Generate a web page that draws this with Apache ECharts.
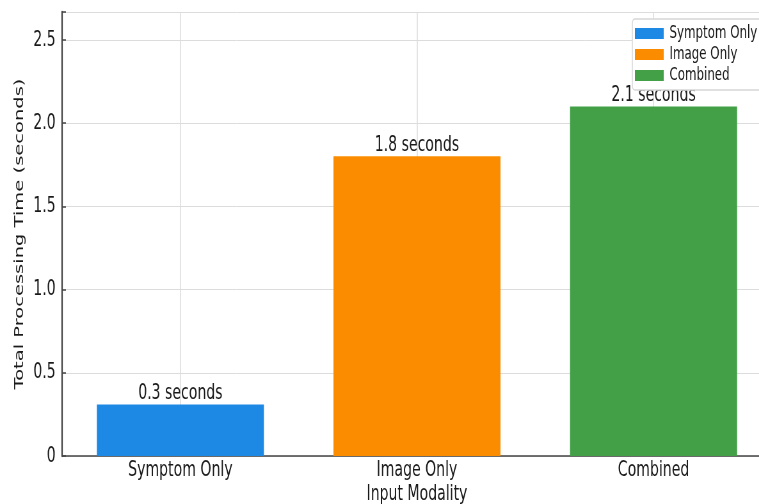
<!DOCTYPE html>
<html><head><meta charset="utf-8">
<script src="https://cdn.jsdelivr.net/npm/echarts@6/dist/echarts.min.js"></script>
<style>
html,body{margin:0;padding:0;background:#fff;overflow:hidden;width:759px;height:504px}
#c{width:1186px;height:504px;transform:scaleX(0.64);transform-origin:0 0}
</style>
</head><body><div id="c"></div>
<script>
const categories = ['Symptom Only', 'Image Only', 'Combined'];
const seriesNames = ['Symptom Only', 'Image Only', 'Combined'];
const values = [0.31, 1.80, 2.10];
const labelValues = [0.3, 1.8, 2.1];
const colors = ['#1e88e5', '#fb8c00', '#43a047'];
const yTicks = [0, 0.5, 1.0, 1.5, 2.0, 2.5];

const font = "'DejaVu Sans', sans-serif";
const chart = echarts.init(document.getElementById('c'), null, { width: 1186, height: 504 });
const series = seriesNames.map((n, i) => ({
  name: n,
  type: 'bar',
  z: 3,
  barWidth: 261,
  barGap: '-100%',
  data: categories.map((c, j) => j === i ? values[i] : null),
  itemStyle: { color: colors[i] },
  label: {
    show: true, position: 'top', distance: 0,
    formatter: () => labelValues[i].toFixed(1) + ' seconds',
    fontFamily: font, fontSize: 22, color: '#1a1a1a'
  }
}));
// helper axis: half-step slots so split lines fall on category centres
const halfSlots = [];
categories.forEach((c, i) => { halfSlots.push('e' + i, c); });
halfSlots.push('end');

chart.setOption({
  animation: false,
  grid: { left: 97, top: 12, bottom: 48, right: -20, containLabel: false, outerBoundsMode: 'none' },
  legend: {
    orient: 'vertical', left: 988, top: 19,
    itemWidth: 45, itemHeight: 11, itemGap: 2,
    backgroundColor: '#fff', borderColor: '#d6d6d6', borderWidth: 1.5, borderRadius: 4,
    padding: [5, 40, 5, 4],
    textStyle: { fontFamily: font, fontSize: 18.5, color: '#1a1a1a', padding: [0, 0, 0, 4] },
    icon: 'rect',
    data: seriesNames
  },
  xAxis: [{
    type: 'category', data: categories,
    name: 'Input Modality', nameLocation: 'middle', nameGap: 27, nameMoveOverlap: false,
    nameTextStyle: { fontFamily: font, fontSize: 22, color: '#1a1a1a' },
    axisLine: { lineStyle: { color: '#444', width: 1.5 } },
    axisTick: { show: true, inside: true, alignWithLabel: true, length: 4, lineStyle: { color: '#444', width: 1.5 } },
    axisLabel: { fontFamily: font, fontSize: 22, color: '#1a1a1a', margin: 3 },
    splitLine: { show: false }
  }, {
    type: 'category', data: halfSlots, boundaryGap: false, position: 'bottom',
    axisLine: { show: false }, axisTick: { show: false }, axisLabel: { show: false },
    splitLine: { show: true, interval: (idx) => idx % 2 === 1,
      lineStyle: { color: '#dcdcdc', width: 1.6 } }
  }],
  yAxis: {
    type: 'value', min: 0, max: 2.667, interval: 0.5,
    name: 'Total Processing Time (seconds)', nameLocation: 'middle', nameGap: 56,
    nameTextStyle: { fontFamily: font, fontSize: 19.5, color: '#1a1a1a' },
    axisLine: { show: true, lineStyle: { color: '#444', width: 2.3 } },
    axisTick: { show: true, inside: true, length: 6, lineStyle: { color: '#444', width: 1.5 } },
    axisLabel: { fontFamily: font, fontSize: 22, color: '#1a1a1a', margin: 10,
      formatter: v => yTicks.includes(v) ? (v === 0 ? '0' : v.toFixed(1)) : '' },
    splitLine: { show: true, lineStyle: { color: '#dcdcdc', width: 1 } }
  },
  series: series
});
</script></body></html>
